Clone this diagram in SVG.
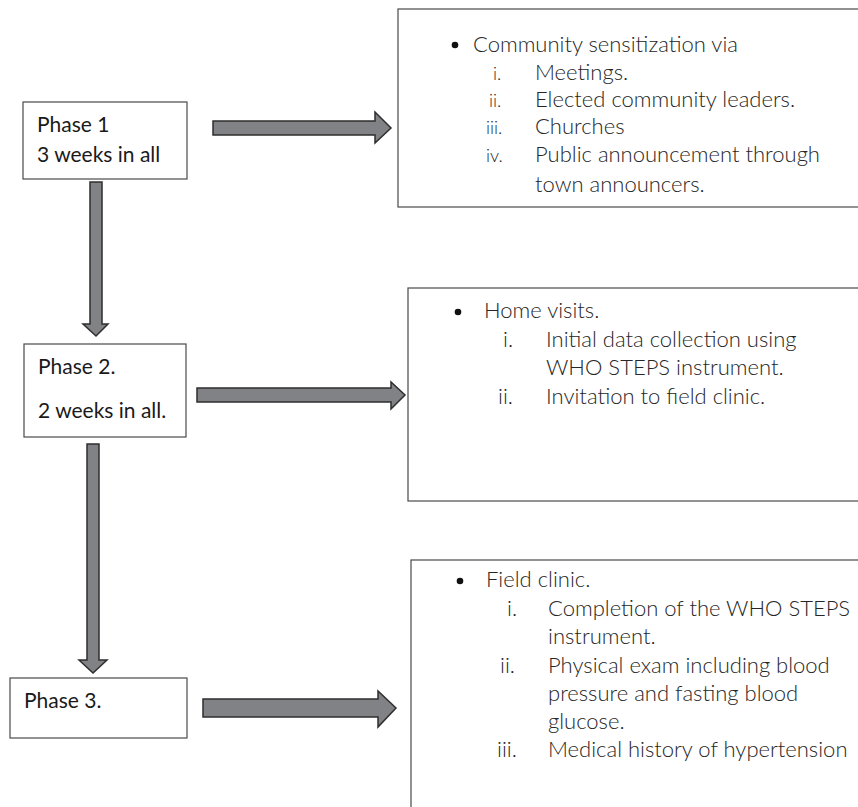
<svg xmlns="http://www.w3.org/2000/svg" width="858" height="807" viewBox="0 0 858 807">
<style>
.box{fill:#fff;stroke:#4a4a4a;stroke-width:1.2}
.arr{fill:#808285;stroke:#2e2e2e;stroke-width:1.5;stroke-linejoin:miter}
.ph{font-family:Lato,"Open Sans","Liberation Sans",sans-serif;font-size:21px;fill:#1a1a1a}
.tx{font-family:Lato,"Open Sans","Liberation Sans",sans-serif;font-weight:300;font-size:22px;fill:#262626}
.num{font-family:Lato,"Open Sans","Liberation Sans",sans-serif;font-weight:300;font-size:18px;fill:#262626}
.dot{fill:#111}
</style>
<rect width="858" height="807" fill="#fff"/>
<g id="connectors">
<polygon class="arr" points="213,121 375,121 375,112 391,128 375,143 375,135 213,135"/>
<polygon class="arr" points="90,182 102,182 102,324 108,324 96,336 83,324 90,324"/>
<polygon class="arr" points="197,388 391,388 391,382 405,395 391,409 391,402 197,402"/>
<polygon class="arr" points="87,444 99,444 99,660 107,660 93,673 79,660 87,660"/>
<polygon class="arr" points="203,699 378,699 378,691 396,708 378,727 378,717 203,717"/>
</g>
<g id="phase1">
<rect class="box" x="23" y="102" width="164" height="77"/>
<text class="ph" x="37" y="132">Phase 1</text>
<text class="ph" x="37" y="162">3 weeks in all</text>
</g>
<g id="phase2">
<rect class="box" x="24" y="344" width="162" height="93"/>
<text class="ph" x="38" y="374">Phase 2.</text>
<text class="ph" x="38" y="418">2 weeks in all.</text>
</g>
<g id="phase3">
<rect class="box" x="10" y="678" width="177" height="60"/>
<text class="ph" x="24" y="708">Phase 3.</text>
</g>
<g id="detail1">
<rect class="box" x="398" y="9" width="480" height="198"/>
<circle class="dot" cx="455" cy="45" r="3.3"/>
<text class="tx" x="473" y="52">Community sensitization via</text>
<text class="num" x="493" y="80">i.</text>
<text class="tx" x="535" y="80">Meetings.</text>
<text class="num" x="489" y="107">ii.</text>
<text class="tx" x="535" y="107">Elected community leaders.</text>
<text class="num" x="486" y="134">iii.</text>
<text class="tx" x="535" y="134">Churches</text>
<text class="num" x="486" y="162">iv.</text>
<text class="tx" x="535" y="162">Public announcement through</text>
<text class="tx" x="535" y="192">town announcers.</text>
</g>
<g id="detail2">
<rect class="box" x="408" y="288" width="470" height="213"/>
<circle class="dot" cx="458" cy="312" r="3.3"/>
<text class="tx" x="484" y="318">Home visits.</text>
<text class="tx" x="503" y="347">i.</text>
<text class="tx" x="546" y="347">Initial data collection using</text>
<text class="tx" x="546" y="375">WHO STEPS instrument.</text>
<text class="tx" x="498" y="404">ii.</text>
<text class="tx" x="546" y="404">Invitation to field clinic.</text>
</g>
<g id="detail3">
<rect class="box" x="411" y="560" width="470" height="280"/>
<circle class="dot" cx="460" cy="581" r="3.3"/>
<text class="tx" x="486" y="587">Field clinic.</text>
<text class="tx" x="507" y="616">i.</text>
<text class="tx" x="548" y="616">Completion of the WHO STEPS</text>
<text class="tx" x="548" y="644">instrument.</text>
<text class="tx" x="500" y="673">ii.</text>
<text class="tx" x="548" y="673">Physical exam including blood</text>
<text class="tx" x="548" y="701">pressure and fasting blood</text>
<text class="tx" x="548" y="729">glucose.</text>
<text class="tx" x="497" y="757">iii.</text>
<text class="tx" x="548" y="757">Medical history of hypertension</text>
</g>
</svg>
